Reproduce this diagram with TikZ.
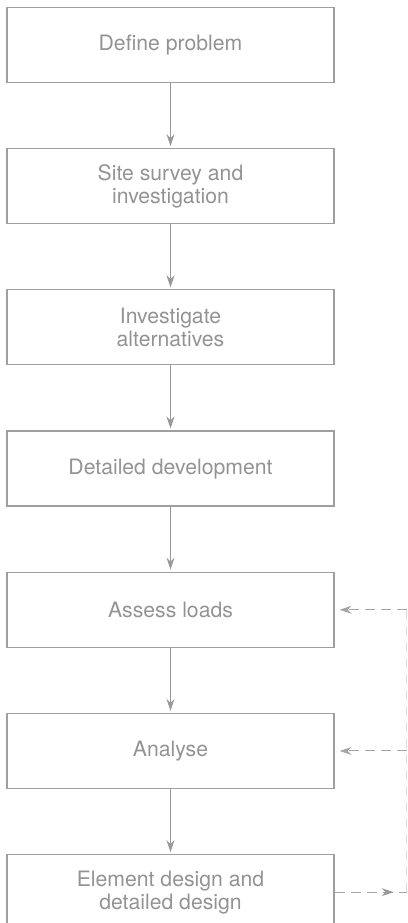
\documentclass[tikz,border=0pt]{standalone}
\usepackage{fontspec}
\setmainfont{TeX Gyre Heros}
\usetikzlibrary{positioning,arrows.meta,decorations.markings}

\tikzset{
  stage/.style={draw=gray!75, line width=0.6pt, text=gray!85, minimum width=163.5bp,
    minimum height=37.5bp, align=center, inner sep=0pt,
    font=\fontsize{10.6bp}{11.6bp}\selectfont},
  flow/.style={-{Stealth[length=6bp,width=4bp]}, draw=gray!80, line width=0.5pt},
  back/.style={draw=gray!70, line width=0.5pt, dash pattern=on 5bp off 3bp},
}

\begin{document}
\begin{tikzpicture}[node distance=32.5bp]
    \useasboundingbox (0,0) rectangle (204bp,-461.5bp);
    % the stages
    \node[stage] (define) at (85.25bp,-22.5bp) {Define problem};
    \node[stage, below=of define] (survey) {Site survey and\\investigation};
    \node[stage, below=of survey] (alter) {Investigate\\alternatives};
    \node[stage, below=of alter] (devel) {Detailed development};
    \node[stage, below=of devel] (loads) {Assess loads};
    \node[stage, below=of loads] (analyse) {Analyse};
    \node[stage, below=of analyse] (element) {Element design and\\detailed design};
    % downward arrows
    \draw[flow, shorten >=1bp] (define) -- (survey);
    \draw[flow, shorten >=1bp] (survey) -- (alter);
    \draw[flow, shorten >=1bp] (alter) -- (devel);
    \draw[flow, shorten >=1bp] (devel) -- (loads);
    \draw[flow, shorten >=1bp] (loads) -- (analyse);
    \draw[flow, shorten >=1bp] (analyse) -- (element);
    % feedback loop
    \coordinate (r1) at ([xshift=36bp]loads.east);
    \coordinate (r2) at ([xshift=36bp]analyse.east);
    \coordinate (r3) at ([xshift=36bp]element.east);
    \draw[back, postaction={decorate}, decoration={markings,
      mark=at position 0.82 with {\arrow[gray!80]{Stealth[length=6bp,width=4bp]}}}]
      (element.east) -- (r3);
    \draw[draw=gray!25, line width=0.4pt, dash pattern=on 5bp off 3bp] (r3) -- (r1);
    \draw[back, -{Stealth[length=6bp,width=4bp]}, shorten >=2.5bp] (r1) -- (loads.east);
    \draw[back, -{Stealth[length=6bp,width=4bp]}, shorten >=2.5bp] (r2) -- (analyse.east);
\end{tikzpicture}
\end{document}
